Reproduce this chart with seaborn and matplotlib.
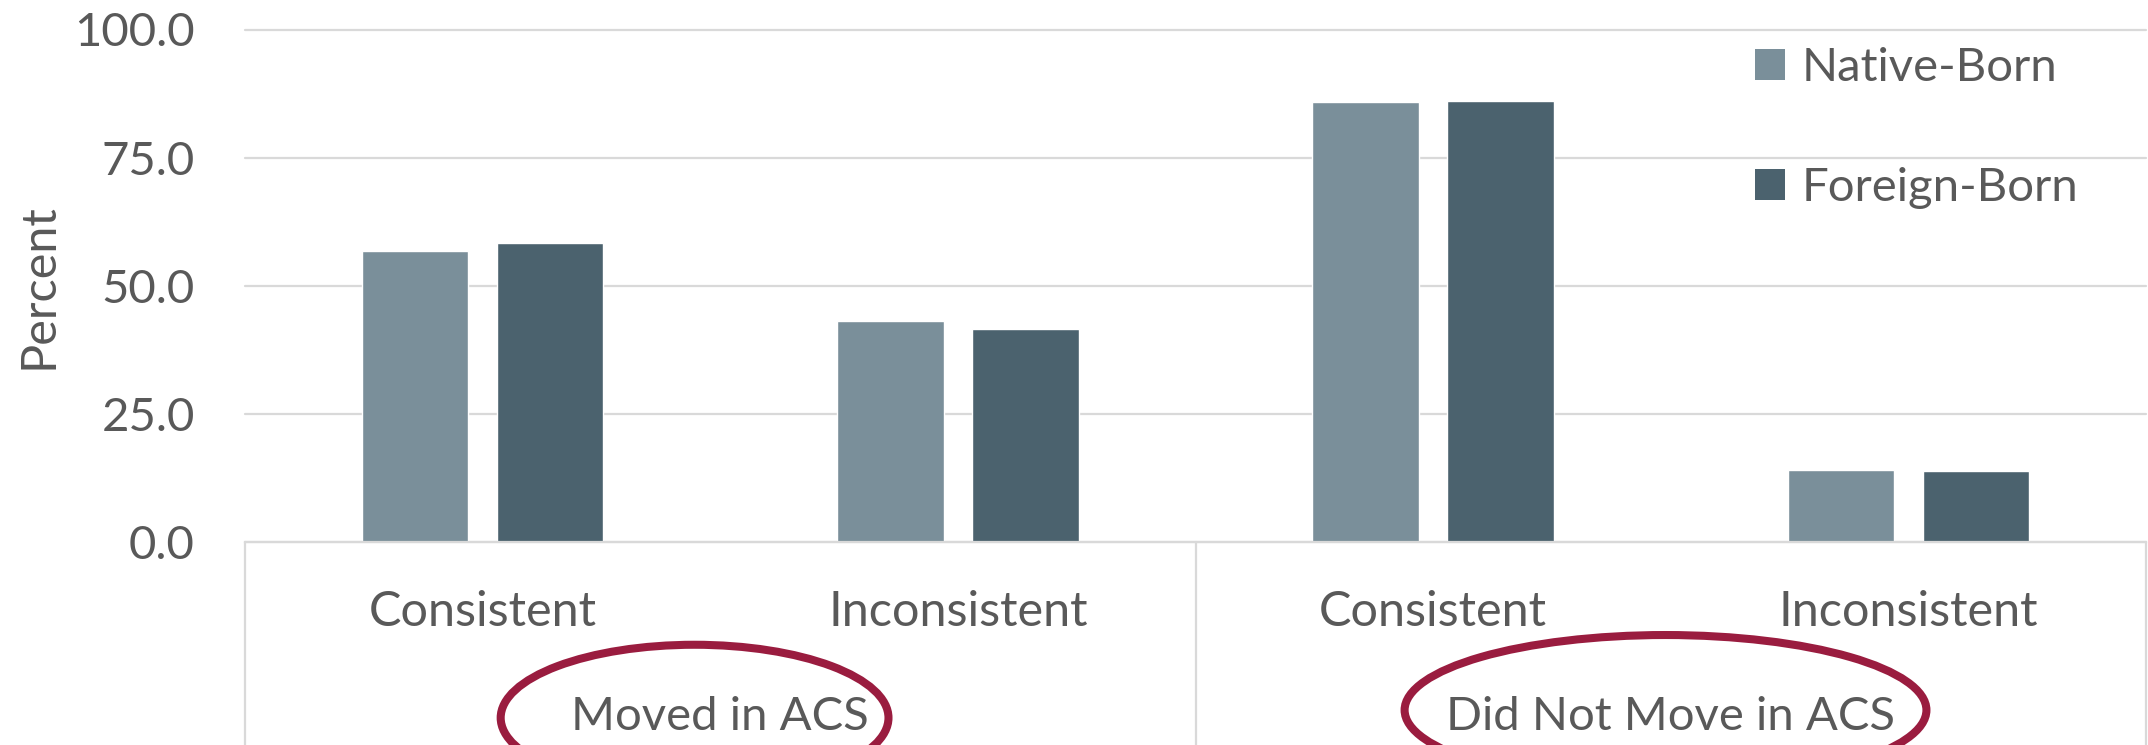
import matplotlib
matplotlib.use("Agg")
import matplotlib.pyplot as plt
import matplotlib.transforms as mtransforms
from matplotlib.patches import Ellipse, Patch
from matplotlib.lines import Line2D
import seaborn as sns
import pandas as pd

# ---- data ----
groups = ["Moved in ACS", "Did Not Move in ACS"]
outcomes = ["Consistent", "Inconsistent"]
native_born = [56.8, 43.2, 85.9, 14.1]
foreign_born = [58.4, 41.6, 86.1, 13.9]
series = ["Native-Born", "Foreign-Born"]
y_ticks = [0, 25, 50, 75, 100]

colors = {"Native-Born": "#7A8F9A", "Foreign-Born": "#4B626E"}
text_color = "#595959"
line_color = "#D9D9D9"
circle_color = "#9A1C3F"

slots = [f"{g}|{o}" for g in groups for o in outcomes]
rows = []
for name, vals in zip(series, [native_born, foreign_born]):
    for slot, v in zip(slots, vals):
        rows.append({"slot": slot, "series": name, "percent": v})
df = pd.DataFrame(rows)

sns.set_style("white")
plt.rcParams["font.family"] = ["Lato", "DejaVu Sans"]

fig = plt.figure(figsize=(21.48, 7.45), dpi=100)
W, H = 2148, 745
ax = fig.add_axes([245 / W, (H - 542) / H, (2146 - 245) / W, (542 - 29.5) / H])

sns.barplot(data=df, x="slot", y="percent", hue="series", order=slots,
            hue_order=series, palette=colors, width=0.568, gap=0.211,
            saturation=1, ax=ax, legend=True)

ax.set_xlim(-0.5, 3.5)
ax.set_ylim(0, 100)
ax.set_yticks(y_ticks)
ax.set_yticklabels([f"{t:.1f}" for t in y_ticks], fontsize=34, color=text_color)
ax.tick_params(axis="y", length=0, pad=36)
ax.set_xticks([])
ax.set_xlabel("")
ax.set_ylabel("Percent", fontsize=35, color=text_color)
ax.yaxis.set_label_coords(-0.0968, 0.5)

ax.yaxis.grid(True, color=line_color, linewidth=1.6)
for gl in ax.get_ygridlines():
    gl.set_clip_on(False)
ax.set_axisbelow(True)
for side in ["top", "right", "left"]:
    ax.spines[side].set_visible(False)
ax.spines["bottom"].set_color(line_color)
ax.spines["bottom"].set_linewidth(1.6)

trans = mtransforms.blended_transform_factory(ax.transData, ax.transAxes)
bottom_frac = -(H - 542) / (542 - 29.5)

# category box separators below the axis
for xs in [-0.5, 1.5, 3.5]:
    ax.add_line(Line2D([xs, xs], [0, bottom_frac], transform=trans,
                       color=line_color, linewidth=1.6, clip_on=False))

# category labels
for i, slot in enumerate(slots):
    ax.text(i, -0.164, slot.split("|")[1], transform=trans, ha="center",
            va="baseline", fontsize=35, color=text_color)

# group labels with highlight ellipses
group_centers = [0.5, 2.5]
for g, xc in zip(groups, group_centers):
    ax.text(xc, -0.367, g, transform=trans, ha="center", va="baseline",
            fontsize=34, color=text_color)

ellipses = [((0.446, -0.343), 0.816, 0.285), ((2.489, -0.328), 1.098, 0.293)]
for (cx, cy), w, h in ellipses:
    ax.add_patch(Ellipse((cx, cy), w, h, transform=trans, fill=False,
                         edgecolor=circle_color, linewidth=5.8, clip_on=False))

# legend
handles = [Patch(facecolor=colors[s], edgecolor="none") for s in series]
leg = ax.legend(handles, series, loc="upper left",
                bbox_to_anchor=(1755 / W, 1 - 47 / H), bbox_transform=fig.transFigure,
                frameon=False, fontsize=34, handlelength=0.636, handleheight=0.636,
                handletextpad=0.36, labelspacing=1.66, borderpad=0, borderaxespad=0)
for t in leg.get_texts():
    t.set_color(text_color)

fig.savefig("out.png", dpi=100, facecolor="white")
